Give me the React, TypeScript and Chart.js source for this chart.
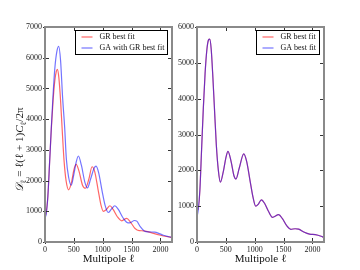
import React, { useEffect, useRef } from "react";
import { Chart, registerables } from "chart.js";

Chart.register(...registerables);

// ---------- data ----------
// Left panel: GR best fit
const ELL_GR_L = [2, 20, 50, 80, 110, 140, 170, 195, 215, 240, 270, 295, 330, 365, 410, 460, 500, 540, 590, 650, 700, 760, 815, 860, 920, 970, 1010, 1060, 1125, 1180, 1250, 1330, 1415, 1480, 1560, 1630, 1700, 1780, 1880, 2000, 2100, 2200];
const DL_GR_L = [850, 950, 1500, 2600, 3700, 4600, 5250, 5550, 5620, 5350, 4600, 3750, 2650, 2000, 1700, 1950, 2350, 2530, 2300, 1850, 1750, 2050, 2450, 2300, 1700, 1200, 1000, 1050, 1180, 1060, 830, 690, 770, 650, 440, 370, 365, 340, 280, 220, 180, 150];
// Left panel: GA with GR best fit
const ELL_GA_L = [2, 20, 50, 80, 110, 140, 170, 205, 238, 270, 305, 340, 370, 410, 455, 500, 540, 578, 630, 690, 735, 790, 850, 885, 930, 990, 1040, 1095, 1150, 1210, 1270, 1350, 1440, 1480, 1550, 1590, 1650, 1720, 1800, 1900, 1960, 2050, 2150, 2200];
const DL_GA_L = [800, 900, 1500, 2600, 3750, 4800, 5650, 6200, 6370, 5900, 4700, 3750, 2700, 2100, 1850, 2200, 2600, 2800, 2500, 1950, 1760, 2050, 2400, 2470, 2250, 1650, 1200, 960, 1070, 1180, 1060, 790, 620, 630, 700, 680, 500, 360, 330, 320, 290, 220, 170, 150];
// Right panel: GR best fit
const ELL_GR_R = [2, 20, 50, 80, 110, 140, 170, 200, 220, 245, 275, 300, 335, 370, 405, 460, 500, 537, 590, 640, 675, 730, 810, 860, 920, 970, 1017, 1060, 1115, 1170, 1240, 1306, 1415, 1480, 1560, 1625, 1700, 1760, 1850, 1950, 2050, 2150, 2200];
const DL_GR_R = [950, 900, 1450, 2600, 3750, 4700, 5350, 5640, 5660, 5400, 4600, 3800, 2700, 2000, 1670, 2000, 2350, 2530, 2250, 1850, 1760, 2050, 2460, 2250, 1700, 1250, 1000, 1050, 1175, 1080, 850, 690, 765, 650, 440, 355, 370, 360, 280, 220, 205, 160, 125];
// Right panel: GA best fit
const ELL_GA_R = [2, 20, 50, 80, 110, 140, 170, 200, 220, 245, 275, 300, 335, 370, 405, 460, 500, 537, 590, 640, 675, 730, 810, 860, 920, 970, 1017, 1060, 1115, 1170, 1240, 1306, 1415, 1480, 1560, 1625, 1700, 1760, 1850, 1950, 2050, 2150, 2200];
const DL_GA_R = [720, 880, 1450, 2600, 3750, 4700, 5350, 5640, 5660, 5400, 4600, 3800, 2700, 2000, 1670, 2000, 2350, 2530, 2250, 1850, 1760, 2050, 2460, 2250, 1700, 1250, 1000, 1050, 1175, 1080, 850, 690, 765, 650, 440, 355, 370, 360, 280, 220, 205, 160, 125];

const LABEL_GR = "GR best fit";
const LABEL_GA_L = "GA with GR best fit";
const LABEL_GA_R = "GA best fit";
const X_LABEL = "Multipole ℓ";
const X_TICKS = [0, 500, 1000, 1500, 2000];
const Y_TICKS_L = [0, 1000, 2000, 3000, 4000, 5000, 6000, 7000];
const Y_TICKS_R = [0, 1000, 2000, 3000, 4000, 5000, 6000];
const X_MIN = 0;
const X_MAX = 2200;
const Y_MAX_L = 7000;
const Y_MAX_R = 6000;

const SERIF = '"Liberation Serif", "DejaVu Serif", serif';
const RED = "rgba(255,0,0,0.6)";
const BLUE = "rgba(0,0,255,0.55)";

const toPts = (xs: number[], ys: number[]) => xs.map((x, i) => ({ x, y: ys[i] }));

function makePlugin(drawYLabel: boolean) {
  return {
    id: "mplframe",
    afterDatasetsDraw(chart: any) {
      const { ctx, chartArea: a, scales } = chart;
      ctx.save();
      // inner ticks
      ctx.strokeStyle = "#333";
      ctx.lineWidth = 1;
      ctx.beginPath();
      for (const t of scales.x.ticks) {
        const px = Math.round(scales.x.getPixelForValue(t.value)) + 0.5;
        ctx.moveTo(px, a.bottom + 2);
        ctx.lineTo(px, a.bottom - 4);
        ctx.moveTo(px, a.top);
        ctx.lineTo(px, a.top + 4);
      }
      for (const t of scales.y.ticks) {
        const py = Math.round(scales.y.getPixelForValue(t.value)) + 0.5;
        ctx.moveTo(a.left - 2, py);
        ctx.lineTo(a.left + 4, py);
        ctx.moveTo(a.right, py);
        ctx.lineTo(a.right - 4, py);
      }
      ctx.stroke();
      // frame
      ctx.strokeStyle = "#8a8a8a";
      ctx.lineWidth = 2;
      ctx.strokeRect(a.left, a.top, a.right - a.left, a.bottom - a.top);

      // legend
      const ds = chart.data.datasets;
      ctx.font = `8px ${SERIF}`;
      let tw = 0;
      for (const d of ds) tw = Math.max(tw, ctx.measureText(d.label).width);
      const w = Math.round(6 + 11 + 7 + tw + 3);
      const h = 24;
      const x0 = Math.round(a.right - 5 - w) + 0.5;
      const y0 = Math.round(a.top + 3) + 0.5;
      ctx.fillStyle = "#fff";
      ctx.fillRect(x0, y0, w, h);
      ctx.strokeStyle = "#000";
      ctx.lineWidth = 1;
      ctx.strokeRect(x0, y0, w, h);
      ds.forEach((d: any, i: number) => {
        const yy = y0 + 6.5 + i * 11;
        ctx.strokeStyle = d.borderColor;
        ctx.lineWidth = 1.2;
        ctx.beginPath();
        ctx.moveTo(x0 + 6, yy);
        ctx.lineTo(x0 + 17, yy);
        ctx.stroke();
        ctx.fillStyle = "#111";
        ctx.textBaseline = "middle";
        ctx.textAlign = "left";
        ctx.fillText(d.label, x0 + 24, yy);
      });

      if (drawYLabel) {
        const parts = [
          { t: "𝒟", f: `italic 11px ${SERIF}`, dy: 0 },
          { t: "ℓ", f: `8px ${SERIF}`, dy: 2.5 },
          { t: " = ℓ(ℓ + 1)", f: `11px ${SERIF}`, dy: 0 },
          { t: "C", f: `italic 11px ${SERIF}`, dy: 0 },
          { t: "ℓ", f: `8px ${SERIF}`, dy: 2.5 },
          { t: "/2π", f: `11px ${SERIF}`, dy: 0 },
        ];
        let W = 0;
        const ws = parts.map((p) => {
          ctx.font = p.f;
          const m = ctx.measureText(p.t).width;
          W += m;
          return m;
        });
        ctx.translate(23, 150);
        ctx.rotate(-Math.PI / 2);
        ctx.fillStyle = "#111";
        ctx.textBaseline = "alphabetic";
        ctx.textAlign = "left";
        let cx = -W / 2;
        parts.forEach((p, i) => {
          ctx.font = p.f;
          ctx.fillText(p.t, cx, p.dy);
          cx += ws[i];
        });
      }
      ctx.restore();
    },
  };
}

function makeConfig(
  datasets: any[],
  yMax: number,
  yTicks: number[],
  yAxisW: number,
  padRight: number,
  drawYLabel: boolean
): any {
  const tickFont = { family: SERIF, size: 8 };
  const fmt = (v: any) => String(v);
  return {
    type: "line",
    data: { datasets },
    options: {
      animation: false,
      responsive: false,
      maintainAspectRatio: false,
      devicePixelRatio: 1,
      layout: { padding: { left: 0, right: padRight, top: 27, bottom: 0 } },
      plugins: { legend: { display: false }, tooltip: { enabled: false } },
      elements: { point: { radius: 0 } },
      scales: {
        x: {
          type: "linear",
          min: X_MIN,
          max: X_MAX,
          grid: { display: false, drawTicks: false, tickLength: 0 },
          border: { display: false },
          afterBuildTicks: (s: any) => {
            s.ticks = X_TICKS.map((v) => ({ value: v }));
          },
          ticks: {
            autoSkip: false,
            padding: 3,
            font: tickFont,
            color: "#222",
            maxRotation: 0,
            callback: fmt,
          },
          title: {
            display: true,
            text: X_LABEL,
            font: { family: SERIF, size: 11 },
            color: "#111",
            padding: { top: 0, bottom: 4 },
          },
          afterFit: (s: any) => {
            s.height = 28;
          },
        },
        y: {
          type: "linear",
          min: 0,
          max: yMax,
          grid: { display: false, drawTicks: false, tickLength: 0 },
          border: { display: false },
          afterBuildTicks: (s: any) => {
            s.ticks = yTicks.map((v) => ({ value: v }));
          },
          ticks: {
            autoSkip: false,
            padding: 3,
            font: tickFont,
            color: "#222",
            callback: fmt,
          },
          afterFit: (s: any) => {
            s.width = yAxisW;
          },
        },
      },
    },
    plugins: [makePlugin(drawYLabel)],
  };
}

const lineDs = (label: string, color: string, pts: any[], order: number) => ({
  label,
  data: pts,
  borderColor: color,
  backgroundColor: color,
  borderWidth: 1.2,
  fill: false,
  pointRadius: 0,
  cubicInterpolationMode: "monotone",
  order,
});

export default function App() {
  const leftRef = useRef<HTMLCanvasElement>(null);
  const rightRef = useRef<HTMLCanvasElement>(null);

  useEffect(() => {
    const left = new Chart(
      leftRef.current!,
      makeConfig(
        [
          lineDs(LABEL_GR, RED, toPts(ELL_GR_L, DL_GR_L), 1),
          lineDs(LABEL_GA_L, BLUE, toPts(ELL_GA_L, DL_GA_L), 0),
        ],
        Y_MAX_L,
        Y_TICKS_L,
        45,
        8,
        true
      )
    );
    const right = new Chart(
      rightRef.current!,
      makeConfig(
        [
          lineDs(LABEL_GR, RED, toPts(ELL_GR_R, DL_GR_R), 1),
          lineDs(LABEL_GA_R, BLUE, toPts(ELL_GA_R, DL_GA_R), 0),
        ],
        Y_MAX_R,
        Y_TICKS_R,
        25,
        36,
        false
      )
    );
    return () => {
      left.destroy();
      right.destroy();
    };
  }, []);

  return (
    <div style={{ position: "absolute", left: 0, top: 0, width: 360, height: 270, background: "#fff" }}>
      <canvas
        ref={leftRef}
        width={180}
        height={270}
        style={{ position: "absolute", left: 0, top: 0, width: 180, height: 270 }}
      />
      <canvas
        ref={rightRef}
        width={188}
        height={270}
        style={{ position: "absolute", left: 172, top: 0, width: 188, height: 270 }}
      />
    </div>
  );
}
